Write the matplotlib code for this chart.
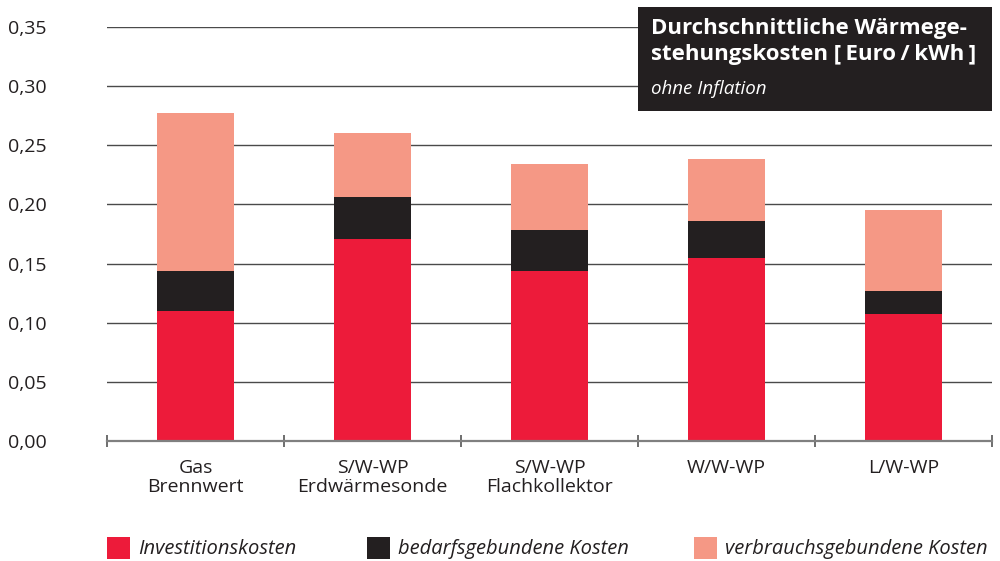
import matplotlib
matplotlib.use("Agg")
import matplotlib.pyplot as plt
from matplotlib.patches import Rectangle
from matplotlib.ticker import FuncFormatter, MultipleLocator
import numpy as np

plt.rcParams['font.family'] = ['Open Sans', 'DejaVu Sans']

# data (Euro/kWh)
categories = ["Gas\nBrennwert", "S/W-WP\nErdwärmesonde", "S/W-WP\nFlachkollektor", "W/W-WP", "L/W-WP"]
investition = [0.110, 0.171, 0.144, 0.155, 0.107]
bedarf = [0.034, 0.035, 0.034, 0.031, 0.020]
verbrauch = [0.133, 0.054, 0.056, 0.052, 0.068]
series_names = ["Investitionskosten", "bedarfsgebundene Kosten", "verbrauchsgebundene Kosten"]
colors = ["#ED1B3A", "#231F20", "#F59885"]

fig = plt.figure(figsize=(10, 5.61), dpi=100)
ax = fig.add_axes([0.107, 0.2139, 0.885, 0.738])

x = np.arange(len(categories))
inv = np.array(investition)
bed = np.array(bedarf)
ver = np.array(verbrauch)
ax.bar(x, inv, width=0.43, color=colors[0], zorder=3)
ax.bar(x, bed, width=0.43, bottom=inv, color=colors[1], zorder=3)
ax.bar(x, ver, width=0.43, bottom=inv + bed, color=colors[2], zorder=3)

ax.set_xlim(-0.5, len(categories) - 0.5)
ax.set_ylim(0, 0.35)
ax.yaxis.set_major_locator(MultipleLocator(0.05))
ax.yaxis.set_major_formatter(FuncFormatter(lambda v, p: f"{v:.2f}".replace(".", ",")))
ax.grid(axis='y', color='#4a4a4a', linewidth=1.0, zorder=0)

for s in ['top', 'right', 'left']:
    ax.spines[s].set_visible(False)
ax.spines['bottom'].set_color('#808080')
ax.spines['bottom'].set_linewidth(1.6)
ax.spines['bottom'].set_zorder(4)

ax.set_xticks(x)
ax.set_xticklabels(categories, fontsize=14, color='#231F20', linespacing=1.1)
ax.set_xticks(np.arange(-0.5, len(categories)), minor=True)
ax.tick_params(axis='x', which='major', length=0, pad=13)
ax.tick_params(axis='x', which='minor', length=9, width=1.2, color='#555555', direction='inout')
ax.tick_params(axis='y', length=0, labelsize=14, labelcolor='#231F20', pad=71)
for lbl in ax.get_yticklabels():
    lbl.set_horizontalalignment('left')

# title box
fig.patches.append(Rectangle((0.638, 0.802), 0.354, 0.186, transform=fig.transFigure,
                             facecolor='#231F20', edgecolor='none', zorder=5))
fig.text(0.651, 0.968, "Durchschnittliche Wärmege-\nstehungskosten [\u2009Euro\u2009/\u2009kWh\u2009]",
         fontsize=16, fontweight='bold', color='white', va='top', ha='left',
         linespacing=1.32, zorder=6)
fig.text(0.651, 0.842, "ohne Inflation", fontsize=13.5, style='italic', color='white',
         va='center', ha='left', zorder=6)

# legend
leg_x = [0.107, 0.367, 0.694]
for lx, name, c in zip(leg_x, series_names, colors):
    fig.patches.append(Rectangle((lx, 0.003), 0.023, 0.039, transform=fig.transFigure,
                                 facecolor=c, edgecolor='none'))
    fig.text(lx + 0.031, 0.022, name, fontsize=14.5, style='italic', color='#231F20',
             va='center', ha='left')

fig.savefig("out.png", dpi=100)
